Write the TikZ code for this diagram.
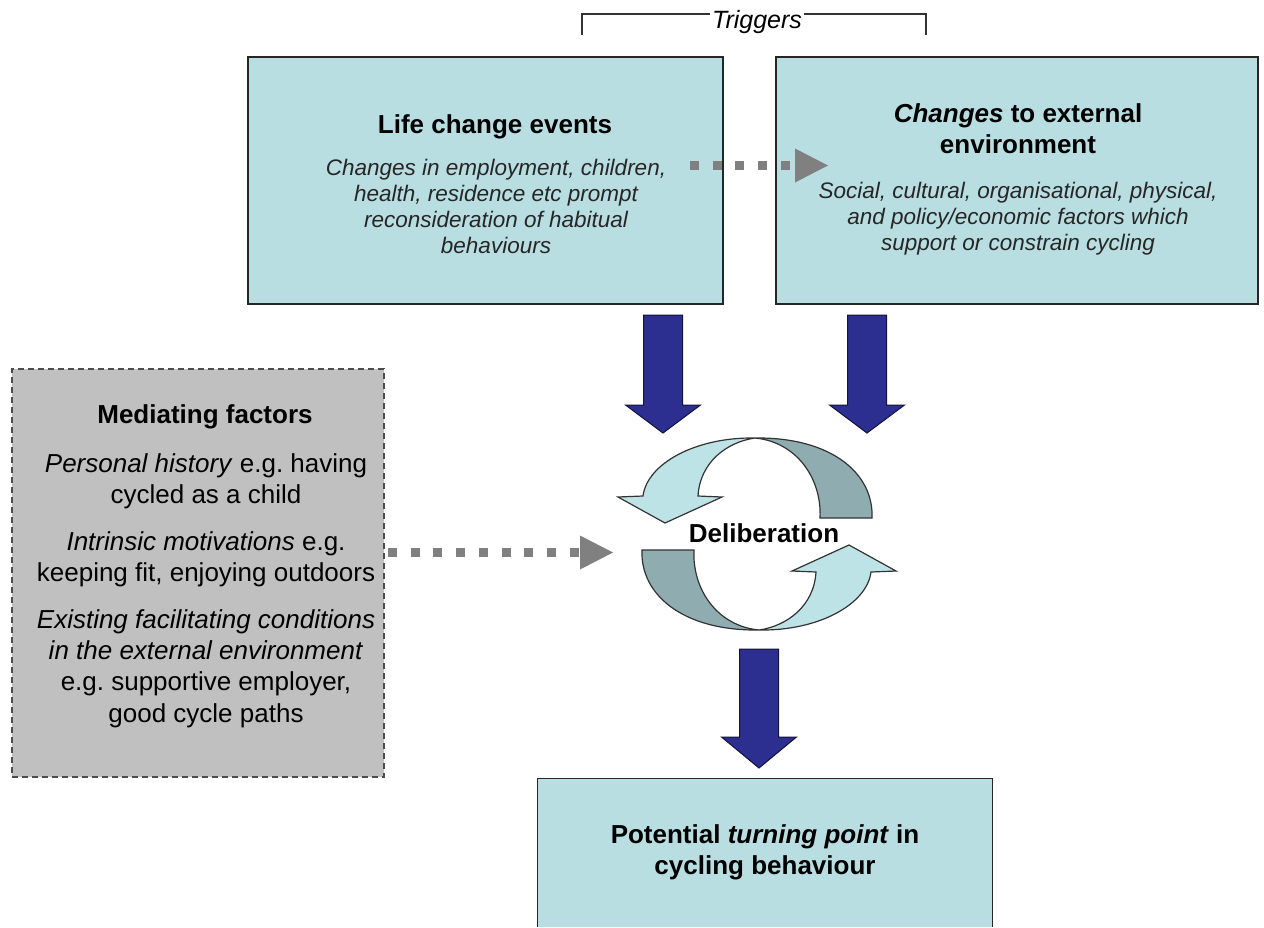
\documentclass[tikz,border=0pt]{standalone}
\usepackage{fontspec}
\setmainfont{Liberation Sans}
\usetikzlibrary{arrows.meta}
\definecolor{boxfill}{RGB}{185,222,226}
\definecolor{medfill}{RGB}{192,192,192}
\definecolor{dotgray}{RGB}{128,128,128}
\definecolor{navyblue}{RGB}{44,46,144}
\definecolor{ringlight}{RGB}{190,227,231}
\definecolor{ringdark}{RGB}{143,172,176}
\frenchspacing
\begin{document}
\begin{tikzpicture}[x=1pt,y=-1pt,
  tbox/.style={draw=black!85, line width=1.2pt, fill=boxfill, inner sep=0pt},
  medbox/.style={draw=black!70, line width=1.2pt, dash pattern=on 6pt off 4pt, fill=medfill, inner sep=0pt},
  titletxt/.style={font=\fontsize{26}{31.5}\selectfont\bfseries, align=center, inner sep=0pt},
  desctxt/.style={font=\fontsize{22.5}{26.3}\selectfont\itshape, text=black!85, align=center, inner sep=0pt},
  medtxt/.style={font=\fontsize{26}{31.3}\selectfont, align=center, inner sep=0pt},
  bluearr/.style={fill=navyblue, draw=black!60!navyblue, line width=1pt, line join=miter},
  dotarr/.style={draw=dotgray, line width=9pt, dash pattern=on 9pt off 13.7pt, -{Triangle[length=33pt,width=34pt,line width=0pt]}},
  ringl/.style={fill=ringlight, draw=black!80, line width=1.2pt},
  ringd/.style={fill=ringdark, draw=black!80, line width=1.2pt},
  pics/navyarrow/.style n args={2}{code={\draw[bluearr] (-19.5,0) -- (19.5,0) -- (19.5,#1) -- (37.5,#1) -- (0,#2) -- (-37.5,#1) -- (-19.5,#1) -- cycle;}}
]
\useasboundingbox (0,0) rectangle (1264,927);
\fill[white] (0,0) rectangle (1264,927);

% Triggers bracket
\coordinate (trL) at (582,35);
\coordinate (trR) at (926,35);
\draw[black!80, line width=1.1pt] (trL) |- (757,14) -| (trR);
\node[font=\fontsize{25}{30}\selectfont\itshape, fill=white, inner xsep=2pt, inner ysep=0pt, anchor=base] (trig) at (757,28) {Triggers};

% boxes
\node[tbox, minimum width=475pt, minimum height=247pt] (life) at (485.5,180.5) {};
\node[tbox, minimum width=482pt, minimum height=247pt] (ext) at (1017,180.5) {};
\node[medbox, minimum width=372pt, minimum height=408pt] (med) at (198,573) {};
\node[fill=boxfill, inner sep=0pt, minimum width=454pt, minimum height=148pt] (turn) at (765,853) {};
\draw[black!85, line width=1.2pt] (turn.south west) -- (turn.north west) -- (turn.north east) -- (turn.south east);

% texts
\node[titletxt, anchor=base] (lifeT) at (495,133) {Life change events};
\node[desctxt, anchor=north] (lifeD) at (496,158.5) {Changes in employment, children,\\health, residence etc prompt\\reconsideration of habitual\\behaviours};
\node[titletxt, anchor=north] (extT) at (1018,103) {\textit{Changes} to external\\environment};
\node[desctxt, anchor=north] (extD) at (1018,181.5) {Social, cultural, organisational, physical,\\and policy/economic factors which\\support or constrain cycling};
\node[titletxt, anchor=base] (medT) at (205,423) {Mediating factors};
\node[medtxt, anchor=north] (medB) at (206,453) {\textit{Personal history} e.g. having\\cycled as a child\\[16pt]\textit{Intrinsic motivations} e.g.\\keeping fit, enjoying outdoors\\[15pt]\textit{Existing facilitating conditions}\\\textit{in the external environment}\\e.g. supportive employer,\\good cycle paths};
\node[titletxt, anchor=north] (turnT) at (765,824) {Potential \textit{turning point} in\\cycling behaviour};

% dotted arrows
\coordinate (d1s) at (690,165.5);
\coordinate (d1e) at (828,165.5);
\draw[dotarr] (d1s) -- (d1e);
\coordinate (d2s) at (388,552.5);
\coordinate (d2e) at (613,552.5);
\draw[dotarr] (d2s) -- (d2e);

% blue arrows
\pic at (663,315) {navyarrow={90}{118}};
\pic at (867,315) {navyarrow={90}{118}};
\pic at (759,649) {navyarrow={88}{119}};

% deliberation cycle
\begin{scope}[shift={(757,534)}]
  \foreach \r in {0,180} {
    \begin{scope}[rotate=\r]
      \draw[ringd] (-2,-96) .. controls (75,-97) and (117,-60) .. (115,-16) -- (63,-16) .. controls (65,-55) and (40,-92) .. (-2,-96) -- cycle;
      \draw[ringl] (-2,-96) .. controls (-62,-97) and (-110,-70) .. (-114,-38) -- (-139,-37) -- (-92,-11) -- (-35,-37) -- (-59,-38) .. controls (-57,-72) and (-30,-92) .. (-2,-96) -- cycle;
    \end{scope}
  }
\end{scope}
\node[titletxt, anchor=base] (delib) at (764,542) {Deliberation};
\end{tikzpicture}
\end{document}
